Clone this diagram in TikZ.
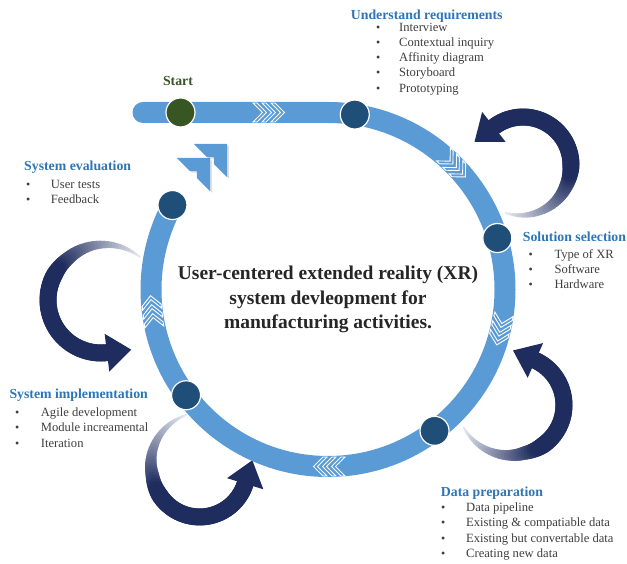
\documentclass[tikz,border=0pt]{standalone}
\usepackage{fontspec}
\setmainfont{Liberation Serif}
\usetikzlibrary{calc}
\definecolor{ringblue}{RGB}{91,155,213}
\definecolor{nodeblue}{RGB}{31,78,121}
\definecolor{startgreen}{RGB}{55,86,35}
\definecolor{headblue}{RGB}{46,117,182}
\definecolor{txtgray}{RGB}{62,62,62}
\definecolor{titlegray}{RGB}{38,38,38}
\definecolor{navy}{RGB}{31,44,94}
\definecolor{fadeend}{RGB}{228,231,240}

\tikzset{
  ringnode/.style={circle, fill=nodeblue, draw=white, line width=1.2pt, minimum size=29pt, inner sep=0pt},
  hd/.style={font=\fontsize{13.8}{16}\selectfont\bfseries, text=headblue, inner sep=0pt, anchor=base west},
  itm/.style={font=\fontsize{12.6}{15}\selectfont, text=txtgray, inner sep=0pt, anchor=base west},
  bul/.style={font=\fontsize{12}{12}\selectfont, text=txtgray, inner sep=0pt, anchor=base},
}

% spiral-ish looping arrow: cx, cy, r tail, r head, start angle, end angle
\newcommand\loopArrow[6]{%
 \foreach \i in {0,...,59}{%
  \pgfmathsetmacro\sa{\i/60}%
  \pgfmathsetmacro\sb{(\i+1)/60}%
  \pgfmathsetmacro\ta{#5+(#6-#5)*\sa}%
  \pgfmathsetmacro\tb{#5+(#6-#5)*\sb}%
  \pgfmathsetmacro\ra{#4+(#3-#4)*max(0,1-\sa/0.35)}%
  \pgfmathsetmacro\rb{#4+(#3-#4)*max(0,1-\sb/0.35)}%
  \pgfmathtruncatemacro\pp{min(100,100*\sa/0.42)}%
  \pgfmathsetmacro\ww{2+15*min(1,\sa/0.45)}%
  \draw[line width=\ww pt, line cap=round, draw=navy!\pp!fadeend] ($(#1,#2)+(\ta:\ra)$) -- ($(#1,#2)+(\tb:\rb)$);
 }%
 \begin{scope}[shift={($(#1,#2)+(#6:#4)$)}, rotate=#6]
  \fill[navy] (-19,-0.5) -- (19,-0.5) -- (0,24) -- cycle;
 \end{scope}%
}

% three outlined chevrons on the band: position, direction
\newcommand\ringChev[2]{%
 \begin{scope}[shift={#1}, rotate=#2]
  \foreach \o in {-17,-8,1}{%
   \filldraw[fill=ringblue, draw=white, line width=0.9pt, line join=miter]
     (\o,-9.5) -- ++(4,0) -- ++(9.5,9.5) -- ++(-9.5,9.5) -- ++(-4,0) -- ++(9.5,-9.5) -- cycle;
  }
 \end{scope}%
}

% solid chevron pointing along +x with tip at origin (with a soft shadow)
\newcommand\bigChev[1]{%
 \begin{scope}[shift={#1}, rotate=45]
  \fill[black, opacity=0.12] (0.3,-2.5) -- (-23.2,21) -- (-23.2,2.5) -- (-18.3,-2.5) -- (-23.2,-7.5) -- (-23.2,-26) -- cycle;
  \fill[ringblue] (0,0) -- (-23.5,23.5) -- (-23.5,5.1) -- (-18.4,0) -- (-23.5,-5.1) -- (-23.5,-23.5) -- cycle;
 \end{scope}%
}

% bullet list: prefix, bullet x, text x, first baseline y, items
\newcommand\blist[5]{%
 \foreach \t [count=\k] in {#5}{%
   \pgfmathsetmacro\yy{#4-15.2*(\k-1)}%
   \node[bul] (#1b\k) at (#2,\yy) {\textbullet};
   \node[itm] (#1t\k) at (#3,\yy) {\t};
 }%
}

\begin{document}
\begin{tikzpicture}[x=1pt,y=1pt]
\useasboundingbox (0,0) rectangle (627,564);
\coordinate (C) at (328,274.5);

% looping arrows
\loopArrow{523}{399}{51}{48}{-110}{128}
\loopArrow{515}{159}{56}{49}{204}{426}
\loopArrow{101}{264}{58}{53}{48}{277}
\loopArrow{199.7}{94.7}{56}{47.7}{104}{343}

% main band
\draw[ringblue, line width=21pt, line cap=round] (143,451.5) -- (328,451.5) arc[start angle=90, end angle=-208.5, radius=177];

% chevrons on the band
\ringChev{(270,451.5)}{0}
\ringChev{($(C)+(44:177)$)}{-46}
\ringChev{($(C)+(-13.5:177)$)}{-103.5}
\ringChev{($(C)+(-90:177)$)}{180}
\ringChev{($(C)+(186.7:177)$)}{96.7}

% separate chevrons
\bigChev{(210,406)}
\bigChev{(227,420)}

% nodes on the band
\node[ringnode] (n1) at ($(C)+(81.3:177)$) {};
\node[ringnode] (n2) at ($(C)+(16.9:177)$) {};
\node[ringnode] (n3) at ($(C)+(-53:177)$) {};
\node[ringnode] (n4) at ($(C)+(216.7:177)$) {};
\node[ringnode] (n5) at ($(C)+(151.5:177)$) {};
\node[ringnode, fill=startgreen] (start) at (180.5,451.5) {};

% labels
\node[hd, text=startgreen, anchor=base] (startlbl) at (178,478) {Start};

\node[hd] (h1) at (350.7,544.5) {Understand requirements};
\blist{u}{378.3}{399}{532.7}{Interview,Contextual inquiry,Affinity diagram,Storyboard,Prototyping}

\node[hd] (h2) at (522.7,322.3) {Solution selection};
\blist{s}{530.7}{554.3}{305.7}{Type of XR,Software,Hardware}

\node[hd] (h3) at (440.7,67.3) {Data preparation};
\blist{d}{443.3}{466}{52.3}{Data pipeline,Existing \& compatiable data,Existing but convertable data,Creating new data}

\node[hd] (h4) at (24,393.3) {System evaluation};
\blist{e}{28.3}{50.7}{375.7}{User tests,Feedback}

\node[hd] (h5) at (9.3,165.7) {System implementation};
\blist{i}{17.3}{40.7}{147.3}{Agile development,Module increamental,Iteration}

\node[align=center, text=titlegray, font=\fontsize{19.5}{24.5}\selectfont\bfseries, inner sep=0pt] (title) at (328,264.5)
  {User-centered extended reality (XR)\\system devleopment for\\manufacturing activities.};
\end{tikzpicture}
\end{document}
